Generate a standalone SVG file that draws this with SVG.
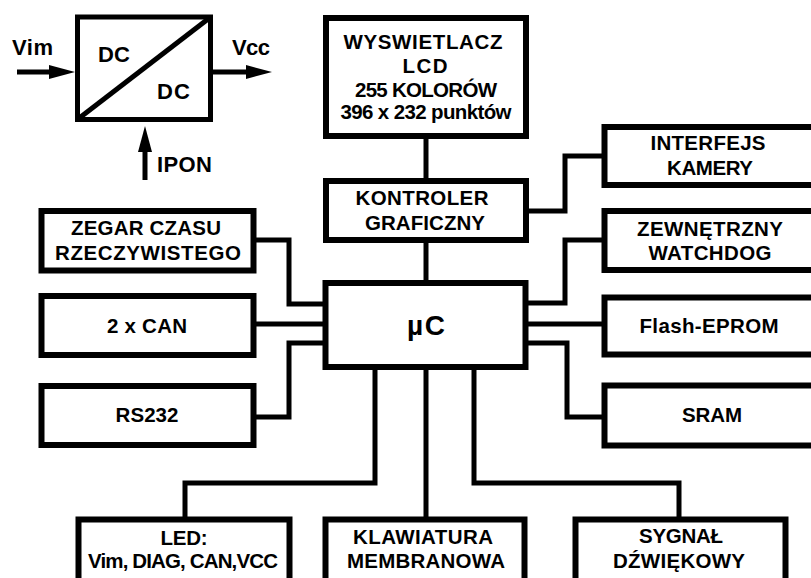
<svg xmlns="http://www.w3.org/2000/svg" width="811" height="578" viewBox="0 0 811 578">
<style>
.box{fill:#fff;stroke:#000;stroke-width:6}
.conv{fill:#fff;stroke:#000;stroke-width:5}
.wire{fill:none;stroke:#000;stroke-width:5;stroke-linejoin:miter;stroke-linecap:square}
.arrow{fill:none;stroke:#000;stroke-width:5}
text{font-family:"Liberation Sans",Arial,sans-serif;font-weight:bold;font-size:20.5px;fill:#000;text-anchor:middle}
.big{font-size:22px;text-anchor:start}
.mc{font-size:28px}
</style>
<defs>
<marker id="ah" markerUnits="userSpaceOnUse" markerWidth="28" markerHeight="16" refX="3" refY="8" orient="auto">
<path d="M0,1 L26,8 L0,15 Z" fill="#000"/>
</marker>
</defs>
<rect width="811" height="578" fill="#fff"/>

<g id="connectors">
<path class="wire" d="M426,139 V178"/>
<path class="wire" d="M426,243 V280"/>
<path class="wire" d="M529,211 H565 V156 H602"/>
<path class="wire" d="M602,240 H565 V303 H528"/>
<path class="wire" d="M528,324 H602"/>
<path class="wire" d="M528,343 H567 V417 H602"/>
<path class="wire" d="M256,240 H289 V304 H323"/>
<path class="wire" d="M256,324 H323"/>
<path class="wire" d="M323,343 H289 V417 H256"/>
<path class="wire" d="M375,370 V483 H185 V517"/>
<path class="wire" d="M426,370 V517"/>
<path class="wire" d="M474,370 V483 H679 V517"/>
<path class="arrow" d="M17,72 H52" marker-end="url(#ah)"/>
<path class="arrow" d="M213,72 H249" marker-end="url(#ah)"/>
<path class="arrow" d="M145,180 V149" marker-end="url(#ah)"/>
</g>

<g id="dcdc">
<rect class="conv" x="77.5" y="17" width="133" height="102.5"/>
<line x1="78" y1="119" x2="210" y2="17.5" stroke="#000" stroke-width="5"/>
<text class="big" x="98" y="62" textLength="32">DC</text>
<text class="big" x="157" y="99" textLength="33">DC</text>
<text class="big" x="12" y="55" textLength="41">Vim</text>
<text class="big" x="232" y="55" textLength="38">Vcc</text>
<text class="big" x="157" y="172" textLength="55">IPON</text>
</g>

<g id="lcd">
<rect class="box" x="326" y="18" width="200" height="118"/>
<text x="423" y="49" textLength="159">WYSWIETLACZ</text>
<text x="425" y="73" textLength="45">LCD</text>
<text x="426" y="97" textLength="142">255 KOLORÓW</text>
<text x="426" y="119" textLength="171">396 x 232 punktów</text>
</g>

<g id="kontroler">
<rect class="box" x="326" y="181" width="200" height="59"/>
<text x="422" y="205" textLength="133">KONTROLER</text>
<text x="425" y="230" textLength="120">GRAFICZNY</text>
</g>

<g id="uc">
<rect class="box" x="325.5" y="283" width="200" height="84"/>
<text class="mc" x="426" y="335" textLength="38">µC</text>
</g>

<g id="interfejs">
<rect class="box" x="604.5" y="127" width="220" height="58"/>
<text x="708" y="150" textLength="115">INTERFEJS</text>
<text x="710" y="175" textLength="86">KAMERY</text>
</g>

<g id="watchdog">
<rect class="box" x="604.5" y="211" width="220" height="59"/>
<text x="710" y="236" textLength="146">ZEWNĘTRZNY</text>
<text x="710" y="260" textLength="123">WATCHDOG</text>
</g>

<g id="flash">
<rect class="box" x="604.5" y="297.5" width="220" height="57"/>
<text x="709" y="333" textLength="139">Flash-EPROM</text>
</g>

<g id="sram">
<rect class="box" x="604.5" y="385.5" width="220" height="60"/>
<text x="712" y="422" textLength="60">SRAM</text>
</g>

<g id="zegar">
<rect class="box" x="41.5" y="211" width="212" height="59.5"/>
<text x="146" y="235" textLength="150">ZEGAR CZASU</text>
<text x="148" y="260" textLength="186">RZECZYWISTEGO</text>
</g>

<g id="can">
<rect class="box" x="41.5" y="296" width="212" height="59"/>
<text x="147" y="333" textLength="80">2 x CAN</text>
</g>

<g id="rs232">
<rect class="box" x="41.5" y="386" width="212" height="59"/>
<text x="147" y="422" textLength="63">RS232</text>
</g>

<g id="led">
<rect class="box" x="78.5" y="519.5" width="211" height="80"/>
<text x="184" y="545" textLength="47">LED:</text>
<text x="183" y="568" textLength="190">Vim, DIAG, CAN,VCC</text>
</g>

<g id="klawiatura">
<rect class="box" x="325.5" y="519.5" width="199" height="80"/>
<text x="423" y="544" textLength="140">KLAWIATURA</text>
<text x="426" y="568" textLength="158">MEMBRANOWA</text>
</g>

<g id="sygnal">
<rect class="box" x="575.5" y="519.5" width="210" height="80"/>
<text x="681" y="543" textLength="84">SYGNAŁ</text>
<text x="679" y="568" textLength="132">DŹWIĘKOWY</text>
</g>
</svg>
